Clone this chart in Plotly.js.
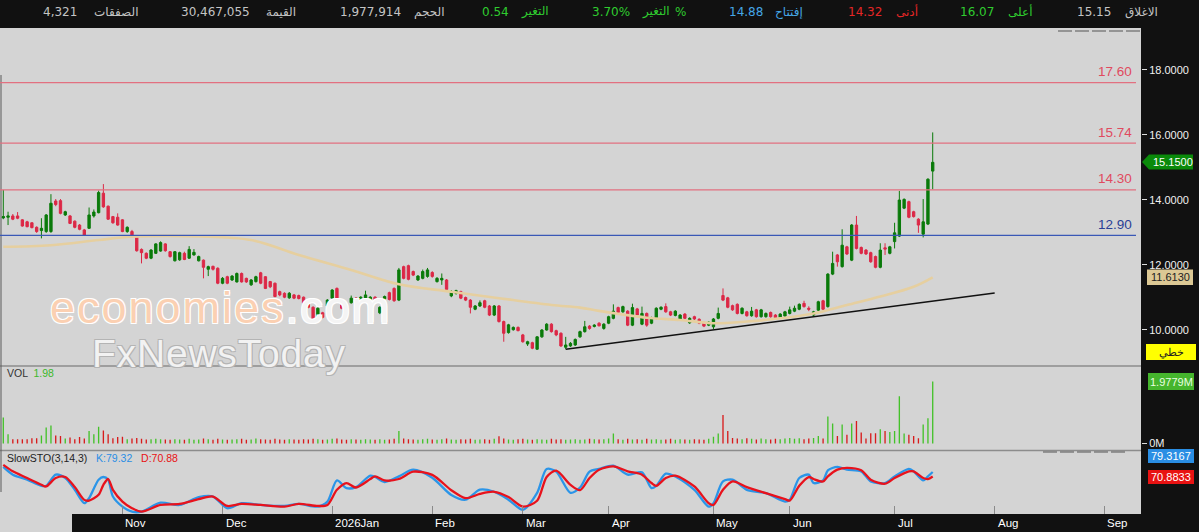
<!DOCTYPE html>
<html>
<head>
<meta charset="utf-8">
<script src="https://cdn.plot.ly/plotly-3.0.1.min.js"></script>
<style>
html,body{margin:0;padding:0;background:#111111;}
#chart{width:1199px;height:532px;}
</style>
</head>
<body>
<div id="chart"></div>
<script>
// ---------------- DATA ----------------
const open = [13.44,13.46,13.50,13.50,13.38,13.32,13.29,13.15,13.05,13.02,
13.02,13.96,13.97,13.53,13.50,13.34,13.22,13.07,13.12,13.50,
13.60,14.20,13.80,13.48,13.46,13.38,13.02,13.02,12.86,12.47,
12.35,12.20,12.35,12.42,12.64,12.40,12.12,12.15,12.35,12.20,
12.30,12.12,12.14,11.86,11.95,11.89,11.43,11.63,11.53,11.47,
11.73,11.58,11.38,11.48,11.75,11.63,11.48,11.43,11.17,11.12,
10.98,11.07,11.05,11.00,10.82,10.69,10.30,10.52,10.73,10.97,
11.27,10.76,10.69,10.83,10.97,10.86,10.93,10.91,11.00,10.52,
10.95,11.14,11.27,10.91,11.94,11.97,11.79,11.53,11.58,11.64,
11.76,11.48,11.53,11.53,11.04,11.12,11.17,10.99,10.91,10.63,
10.73,10.89,10.73,10.45,10.73,10.25,9.91,10.00,10.07,9.84,
9.56,9.60,9.40,9.78,9.99,10.17,9.97,9.89,9.46,9.50,
9.53,9.78,9.94,10.11,10.10,10.20,10.04,10.20,10.35,10.68,
10.55,10.57,10.14,10.64,10.17,10.50,10.20,10.35,10.63,10.71,
10.55,10.44,10.33,10.48,10.21,10.40,10.32,10.22,10.14,10.09,
10.35,11.05,10.98,10.74,10.78,10.50,10.55,10.43,10.61,10.40,
10.40,10.53,10.45,10.37,10.42,10.50,10.57,10.63,10.81,10.66,
10.45,10.60,10.89,10.71,11.71,12.30,11.94,12.55,12.14,13.22,
12.53,12.45,12.37,12.25,11.92,12.52,12.35,12.71,12.88,13.74,
13.94,13.63,13.40,12.94,13.25,14.88];
const high = [14.30,13.63,13.56,13.62,13.40,13.35,13.30,13.18,13.43,13.56,
14.17,14.02,14.02,13.66,13.53,13.36,13.25,13.10,13.76,13.70,
14.28,14.48,13.82,13.50,13.58,13.40,13.18,13.07,12.90,12.50,
12.38,12.48,12.66,12.72,12.66,12.42,12.42,12.40,12.40,12.57,
12.48,12.28,12.16,11.97,11.97,11.92,11.62,11.66,11.68,11.76,
11.76,11.60,11.56,11.66,11.78,11.65,11.50,11.45,11.20,11.15,
11.16,11.10,11.08,11.02,10.85,10.72,10.70,10.55,10.94,11.25,
11.30,10.80,10.72,11.05,11.00,11.03,11.20,11.03,11.03,10.72,
11.05,11.17,11.30,11.90,11.97,12.00,11.82,11.68,11.85,11.90,
11.80,11.62,11.73,11.56,11.22,11.23,11.20,11.02,10.94,10.76,
10.90,10.92,10.76,10.76,10.76,10.28,10.18,10.10,10.10,9.87,
9.66,9.63,9.80,10.02,10.20,10.20,10.00,9.92,9.78,9.62,
9.73,9.97,10.27,10.14,10.17,10.23,10.20,10.43,10.78,10.71,
10.74,10.60,10.80,10.67,10.71,10.53,10.40,10.69,10.72,10.81,
10.58,10.60,10.48,10.51,10.38,10.43,10.35,10.25,10.26,10.36,
10.68,11.27,11.01,10.77,10.81,10.69,10.58,10.70,10.64,10.64,
10.53,10.56,10.48,10.51,10.58,10.71,10.74,10.81,10.89,10.72,
10.58,10.89,10.92,11.74,12.40,12.33,13.09,12.58,13.25,13.50,
12.56,12.48,12.40,12.28,12.66,12.66,12.58,13.29,14.27,14.04,
13.97,13.66,13.43,14.02,14.66,16.07];
const low = [13.40,13.22,13.37,13.40,13.17,13.15,13.12,12.98,12.81,12.98,
12.98,13.80,13.55,13.50,13.25,13.12,13.06,12.89,13.10,13.45,
13.58,13.75,13.38,13.26,13.20,13.00,12.98,12.84,12.40,12.04,
12.17,12.17,12.33,12.40,12.40,12.22,12.10,12.12,12.14,12.18,
12.28,12.10,11.58,11.65,11.82,11.40,11.40,11.40,11.50,11.45,
11.45,11.44,11.35,11.45,11.40,11.25,11.28,11.00,11.03,10.97,
10.95,10.94,10.93,10.80,10.66,10.28,10.27,10.35,10.70,10.94,
10.88,10.63,10.40,10.80,10.80,10.83,10.90,10.88,10.87,10.48,
10.92,10.90,10.86,10.88,11.55,11.52,11.65,11.50,11.55,11.60,
11.60,11.45,11.38,11.20,11.00,11.08,10.94,10.88,10.50,10.60,
10.70,10.66,10.42,10.42,10.22,9.63,9.88,9.97,9.95,9.60,
9.50,9.40,9.38,9.75,9.97,9.91,9.80,9.47,9.40,9.47,
9.50,9.75,9.91,10.00,10.07,10.10,10.00,10.17,10.32,10.50,
10.52,10.11,10.11,10.42,10.14,10.09,10.17,10.32,10.60,10.52,
10.42,10.41,10.30,10.32,10.18,10.30,10.17,10.08,10.11,10.02,
10.32,10.88,10.66,10.58,10.47,10.47,10.40,10.40,10.37,10.37,
10.37,10.37,10.34,10.34,10.39,10.47,10.54,10.60,10.68,10.57,
10.42,10.57,10.60,10.68,11.68,11.94,11.91,12.30,12.11,12.47,
12.32,12.30,12.06,11.89,11.89,12.30,12.32,12.50,12.85,13.71,
13.43,13.45,12.98,12.84,13.22,14.32];
const close = [13.48,13.50,13.40,13.43,13.19,13.17,13.14,13.02,13.12,13.53,
13.89,13.85,13.58,13.63,13.27,13.15,13.09,12.91,13.53,13.62,
14.22,13.78,13.40,13.29,13.22,13.02,13.15,12.86,12.43,12.37,
12.20,12.45,12.64,12.68,12.43,12.25,12.40,12.37,12.16,12.47,
12.38,12.25,11.92,11.94,11.86,11.43,11.58,11.43,11.65,11.73,
11.47,11.47,11.53,11.63,11.43,11.27,11.32,11.02,11.07,11.00,
11.12,10.97,10.96,10.82,10.69,10.30,10.66,10.38,10.91,11.22,
10.91,10.66,10.55,10.97,10.83,11.00,11.07,11.00,10.90,10.69,
11.02,10.93,10.89,11.84,11.58,11.55,11.68,11.65,11.79,11.84,
11.64,11.58,11.58,11.24,11.17,11.20,10.97,10.91,10.69,10.73,
10.83,10.69,10.45,10.73,10.25,9.89,10.15,10.07,9.97,9.63,
9.63,9.43,9.78,9.99,10.17,9.94,9.84,9.50,9.53,9.58,
9.70,9.94,10.09,10.04,10.14,10.12,10.17,10.40,10.57,10.53,
10.71,10.14,10.68,10.45,10.50,10.14,10.37,10.66,10.69,10.55,
10.45,10.57,10.45,10.35,10.35,10.33,10.20,10.11,10.23,10.33,
10.50,10.91,10.69,10.61,10.50,10.66,10.43,10.57,10.40,10.61,
10.50,10.40,10.37,10.48,10.55,10.61,10.66,10.78,10.71,10.63,
10.55,10.86,10.63,11.71,12.04,12.09,12.60,12.33,13.22,12.50,
12.35,12.33,12.09,11.92,12.45,12.48,12.55,12.98,13.99,14.01,
13.46,13.48,13.22,13.32,14.63,15.15];
// volume, millions
const volume = [0.83,0.30,0.14,0.14,0.14,0.14,0.17,0.17,0.26,0.51,
0.58,0.26,0.24,0.16,0.19,0.14,0.21,0.16,0.40,0.30,
0.54,0.42,0.30,0.17,0.21,0.22,0.14,0.16,0.18,0.15,
0.13,0.14,0.15,0.14,0.13,0.12,0.14,0.13,0.12,0.15,
0.12,0.13,0.16,0.14,0.12,0.15,0.13,0.12,0.13,0.14,
0.15,0.12,0.13,0.16,0.14,0.13,0.12,0.15,0.13,0.12,
0.14,0.13,0.12,0.14,0.13,0.15,0.14,0.12,0.13,0.15,
0.16,0.13,0.12,0.14,0.13,0.12,0.14,0.13,0.12,0.14,
0.12,0.13,0.15,0.40,0.16,0.14,0.13,0.12,0.14,0.15,
0.13,0.12,0.14,0.16,0.13,0.12,0.14,0.13,0.15,0.12,
0.13,0.14,0.12,0.15,0.23,0.16,0.13,0.12,0.14,0.15,
0.13,0.12,0.14,0.13,0.12,0.15,0.13,0.14,0.12,0.13,
0.14,0.12,0.13,0.15,0.14,0.13,0.14,0.16,0.32,0.14,
0.12,0.15,0.13,0.14,0.12,0.15,0.13,0.14,0.12,0.13,
0.15,0.12,0.14,0.13,0.12,0.14,0.13,0.12,0.15,0.22,
0.32,0.91,0.40,0.18,0.16,0.14,0.17,0.15,0.13,0.16,
0.14,0.13,0.15,0.14,0.16,0.18,0.15,0.17,0.14,0.16,
0.18,0.24,0.16,0.86,0.64,0.24,0.61,0.28,0.64,0.72,
0.35,0.16,0.33,0.33,0.46,0.40,0.37,0.40,1.51,0.32,
0.28,0.24,0.17,0.61,0.81,1.98];
// moving average (read at sample points)
const maIdx = [0,10,20,27,41,52,62,73,83,94,104,115,121,125,135,142,149,156,163,170,177,184,191,195];
const maVal = [12.55,12.60,12.76,12.86,12.87,12.76,12.30,11.84,11.40,11.17,10.97,10.76,10.68,10.58,10.37,10.30,10.20,10.25,10.35,10.50,10.76,11.02,11.32,11.61];
// trend line
const trendIdx = [118, 208];
const trendVal = [9.40, 11.13];
// slow stochastic (read at sample points)
const stoIdx = [0,2,5,8,9,11,13,15,17,18,20,21,22,23,25,27,29,33,37,41,44,47,50,54,59,62,66,68,70,72,74,77,78,80,83,86,90,94,97,100,103,106,109,112,114,116,119,121,123,125,128,131,134,136,137,139,141,145,148,149,151,153,156,160,164,165,167,169,170,172,173,175,177,180,182,185,187,190,191,193,194,195];
const stoK = [89.0,74.3,64.8,53.3,53.3,74.3,68.0,45.7,20.4,29.9,64.8,69.9,64.8,33.0,13.9,4.4,4.4,21.5,17.1,31.8,33.0,10.9,20.4,17.1,15.2,19.1,13.9,23.4,63.4,49.0,50.9,72.4,69.9,60.4,71.1,83.8,68.6,36,27,46,42,27,8,40,85,80,40,50,80,85.2,91.4,74.3,78.7,49.0,53.3,76.2,71.1,45.7,13.9,20.4,61.5,64.8,45.7,39.4,23.4,26.7,68.0,74.3,58.5,63.4,82.5,89.0,83.8,80.6,61.5,58.5,71.1,85.2,80.6,63.4,71.1,79.32];
const stoD = [92.8,80.6,68.0,55.2,52.0,68.0,69.9,50.9,26.7,25.3,36.2,55.2,66.1,45.7,23.4,10.9,4.4,17.1,19.1,28.0,33.0,15.2,19.1,17.1,13.9,19.1,15.2,17.1,45.7,58.5,50.1,66.1,71.1,63.4,66.1,80,74,45,30,38,42,32,14,25,70,82,55,45,68,83.8,90.1,80.6,74.3,58.5,53.3,68.0,72.4,52.0,20.4,17.1,45.7,61.5,50.9,39.4,28.0,25.3,53.3,69.9,66.1,61.5,71.1,83.8,87.1,82.5,64.8,57.2,68.0,80.6,80.6,68.0,66.1,70.88];
// levels
const redLevels = [17.60, 15.74, 14.30];
const blueLevels = [12.90];
// month ticks
const monthIdx = [25, 46, 69, 90, 109, 127, 149, 165, 187, 208, 231];
const monthLabels = ['Nov','Dec','2026Jan','Feb','Mar','Apr','May','Jun','Jul','Aug','Sep'];
// header
const header = [
  ['4,321',60,'#c4c4c4'],['الصفقات',116,'#c4c4c4'],
  ['30,467,055',215.5,'#c4c4c4'],['القيمة',281,'#c4c4c4'],
  ['1,977,914',370.5,'#c4c4c4'],['الحجم',428.5,'#c4c4c4'],
  ['0.54',495.5,'#2fcc2f'],['التغير',535,'#2fcc2f'],
  ['3.70%',611,'#2fcc2f'],['التغير',656,'#2fcc2f'],['%',680.5,'#2fcc2f'],
  ['14.88',745.5,'#45a6e6'],['إفتتاح',788.5,'#45a6e6'],
  ['14.32',864.5,'#e52626'],['أدنى',906.5,'#e52626'],
  ['16.07',977,'#2fcc2f'],['أعلى',1019.5,'#2fcc2f'],
  ['15.15',1093.5,'#c4c4c4'],['الاغلاق',1141,'#c4c4c4']
];

// ---------------- LAYOUT HELPERS ----------------
const W = 1199, H = 532, ML = 0, MR = 58, MT = 28, MB = 18;
const PW = W - ML - MR, PH = H - MT - MB;
const px = x => (x - ML) / PW;
const py = y => (H - MB - y) / PH;
const idx = open.map((_, i) => i);
const GREEN = '#0a7a0a', RED = '#dc2846';
const volColors = close.map((c, i) => c >= open[i] ? '#44c22a' : '#d81c1c');

const traces = [
  {type:'scatter', mode:'lines', x:maIdx, y:maVal, xaxis:'x', yaxis:'y',
   line:{color:'#e6cf9f', width:2.6, shape:'spline', smoothing:1}, hoverinfo:'skip'},
  {type:'candlestick', x:idx, open:open, high:high, low:low, close:close, xaxis:'x', yaxis:'y',
   increasing:{line:{color:GREEN, width:1}, fillcolor:GREEN},
   decreasing:{line:{color:RED, width:1}, fillcolor:RED},
   whiskerwidth:0, hoverinfo:'skip'},
  {type:'scatter', mode:'lines', x:trendIdx, y:trendVal, xaxis:'x', yaxis:'y',
   line:{color:'#111111', width:1.4}, hoverinfo:'skip'},
  {type:'bar', x:idx, y:volume, xaxis:'x', yaxis:'y2', width:0.28,
   marker:{color:volColors, line:{width:0}}, hoverinfo:'skip'},
  {type:'scatter', mode:'lines', x:stoIdx, y:stoK, xaxis:'x', yaxis:'y3',
   line:{color:'#2b95e8', width:2.3, shape:'spline', smoothing:0.8}, hoverinfo:'skip'},
  {type:'scatter', mode:'lines', x:stoIdx, y:stoD, xaxis:'x', yaxis:'y3',
   line:{color:'#e8121c', width:2.3, shape:'spline', smoothing:0.8}, hoverinfo:'skip'}
];

const shapes = [];
const annotations = [];
// bottom-left gray patch
shapes.push({type:'rect', xref:'paper', yref:'paper', x0:px(0), x1:px(72), y0:py(532), y1:py(514),
  fillcolor:'#d4d4d4', line:{width:0}, layer:'below'});
// panel separators
[366, 450.5].forEach(y => shapes.push({type:'line', xref:'paper', yref:'paper', x0:px(0), x1:px(1141), y0:py(y), y1:py(y),
  line:{color:'#8c8c8c', width:1.5}}));
// left vertical border
shapes.push({type:'line', xref:'paper', yref:'paper', x0:px(1), x1:px(1), y0:py(75), y1:py(492), line:{color:'#5a5a5a', width:1}});
// small dashes top-right and volume panel
shapes.push({type:'line', xref:'paper', yref:'paper', x0:px(1058), x1:px(1140), y0:py(31), y1:py(31), line:{color:'#555555', width:1, dash:'14px,3px'}});
shapes.push({type:'line', xref:'paper', yref:'paper', x0:px(1043), x1:px(1126), y0:py(452), y1:py(452), line:{color:'#555555', width:1, dash:'14px,3px'}});
// horizontal levels
redLevels.forEach(v => {
  shapes.push({type:'line', xref:'paper', yref:'y', x0:px(0), x1:px(1136), y0:v, y1:v, line:{color:'#e27080', width:1.3}});
  annotations.push({xref:'paper', yref:'y', x:px(1134), y:v, yshift:11, xanchor:'right', yanchor:'middle', showarrow:false,
    text:v.toFixed(2), font:{family:'Liberation Sans, Arial', size:13.5, color:'#e04a5e'}});
});
blueLevels.forEach(v => {
  shapes.push({type:'line', xref:'paper', yref:'y', x0:px(0), x1:px(1136), y0:v, y1:v, line:{color:'#3a58b6', width:1.3}});
  annotations.push({xref:'paper', yref:'y', x:px(1134), y:v, yshift:11, xanchor:'right', yanchor:'middle', showarrow:false,
    text:v.toFixed(2), font:{family:'Liberation Sans, Arial', size:13.5, color:'#2a3f96'}});
});
// right-axis value boxes
function box(x0, x1, y0, y1, fill, text, tcolor, arrow) {
  if (arrow) {
    const path = `M ${px(1142)} ${py((y0+y1)/2)} L ${px(x0)} ${py(y0)} L ${px(x1)} ${py(y0)} L ${px(x1)} ${py(y1)} L ${px(x0)} ${py(y1)} Z`;
    shapes.push({type:'path', xref:'paper', yref:'paper', path:path, fillcolor:fill, line:{width:0}});
  } else {
    shapes.push({type:'rect', xref:'paper', yref:'paper', x0:px(x0), x1:px(x1), y0:py(y1), y1:py(y0), fillcolor:fill, line:{width:0}});
  }
  annotations.push({xref:'paper', yref:'paper', x:px((x0+x1)/2 + (arrow?2:0)), y:py((y0+y1)/2), xanchor:'center', yanchor:'middle',
    showarrow:false, text:text, font:{family:'Liberation Sans, Arial', size:11, color:tcolor}});
}
box(1149, 1193, 154.5, 169.5, '#0a8a0a', '15.1500', '#ffffff', true);
box(1147, 1193, 269.5, 285, '#dcc894', '11.6130', '#222222', false);
box(1146, 1196, 344, 360, '#ffff00', 'خطي', '#222222', false);
box(1148, 1194, 373, 390, '#45b52d', '1.9779M', '#e8ffe0', false);
box(1148, 1194, 449, 463, '#2a8ee4', '79.3167', '#ffffff', false);
box(1148, 1194, 470, 484, '#e81212', '70.8833', '#ffffff', false);
// header texts
header.forEach(h => annotations.push({xref:'paper', yref:'paper', x:px(h[1]), y:py(12), xanchor:'center', yanchor:'middle',
  showarrow:false, text:h[0], font:{family:'DejaVu Sans', size:12, color:h[2]}}));
// panel labels
annotations.push({xref:'paper', yref:'paper', x:px(5), y:py(372.5), xanchor:'left', yanchor:'middle', showarrow:false,
  text:'VOL  <span style="color:#3cb82a">1.98</span>', font:{family:'Liberation Sans, Arial', size:10.5, color:'#333333'}});
annotations.push({xref:'paper', yref:'paper', x:px(5), y:py(457.5), xanchor:'left', yanchor:'middle', showarrow:false,
  text:'SlowSTO(3,14,3)   <span style="color:#2b8ee4">K:79.32</span>   <span style="color:#e81212">D:70.88</span>',
  font:{family:'Liberation Sans, Arial', size:10.5, color:'#222222'}});
// month labels
monthIdx.forEach((m, i) => annotations.push({xref:'x', yref:'paper', x:m, xshift:1, y:py(523), xanchor:'left', yanchor:'middle',
  showarrow:false, text:monthLabels[i], font:{family:'Liberation Sans, Arial', size:11.5, color:'#ffffff'}}));
// watermark
const outlineW = '1px 1px 0 #ffffff, -1px -1px 0 #ffffff, 1px -1px 0 #ffffff, -1px 1px 0 #ffffff';
const outlineG = '1px 1px 0 #b4b4b4, -1px -1px 0 #b4b4b4, 1px -1px 0 #b4b4b4, -1px 1px 0 #b4b4b4';
annotations.push({xref:'paper', yref:'paper', x:px(48), y:py(307), xanchor:'left', yanchor:'middle', showarrow:false,
  text:'<span style="letter-spacing:2px">economies<span style="color:#f4f4f4">.com</span></span>',
  font:{family:'Liberation Sans, Arial', size:45, color:'#fbd0b2', shadow:outlineW}});
annotations.push({xref:'paper', yref:'paper', x:px(90), y:py(353), xanchor:'left', yanchor:'middle', showarrow:false,
  text:'<span style="letter-spacing:0.8px">FxNewsToday</span>', font:{family:'Liberation Sans, Arial', size:39, color:'#f2f2f2', shadow:outlineG}});

const layout = {
  width:W, height:H, margin:{l:ML, r:MR, t:MT, b:MB, pad:0},
  paper_bgcolor:'#111111', plot_bgcolor:'#d4d4d4',
  showlegend:false, hovermode:false, boxgap:0.3,
  xaxis:{domain:[0,1], range:[-0.69, 238.7], anchor:'y3', showgrid:false, zeroline:false, showline:false,
    tickvals:monthIdx, ticktext:monthIdx.map(() => ''), ticks:'inside', ticklen:8, tickcolor:'#8a8a8a', tickwidth:1,
    rangeslider:{visible:false}, fixedrange:true},
  yaxis:{domain:[py(366), 1], range:[8.883, 19.283], side:'right', anchor:'x', showgrid:false, zeroline:false, showline:false,
    tickvals:[10,12,14,16,18], tickformat:'.4f', ticks:'outside', ticklen:5, tickcolor:'#dddddd',
    tickfont:{family:'Liberation Sans, Arial', size:11, color:'#f0f0f0'}},
  yaxis2:{domain:[py(450.5), py(366)], range:[-0.222, 2.476], side:'right', anchor:'x', showgrid:false, zeroline:false, showline:false,
    tickvals:[0], ticktext:['0M'], ticks:'outside', ticklen:5, tickcolor:'#dddddd',
    tickfont:{family:'Liberation Sans, Arial', size:11, color:'#f0f0f0'}},
  yaxis3:{domain:[0, py(450.5)], range:[0, 120], side:'right', anchor:'x', showgrid:false, zeroline:false, showline:false,
    showticklabels:false, ticks:''},
  shapes:shapes, annotations:annotations
};
Plotly.newPlot('chart', traces, layout, {staticPlot:true, displayModeBar:false});
</script>
</body>
</html>
